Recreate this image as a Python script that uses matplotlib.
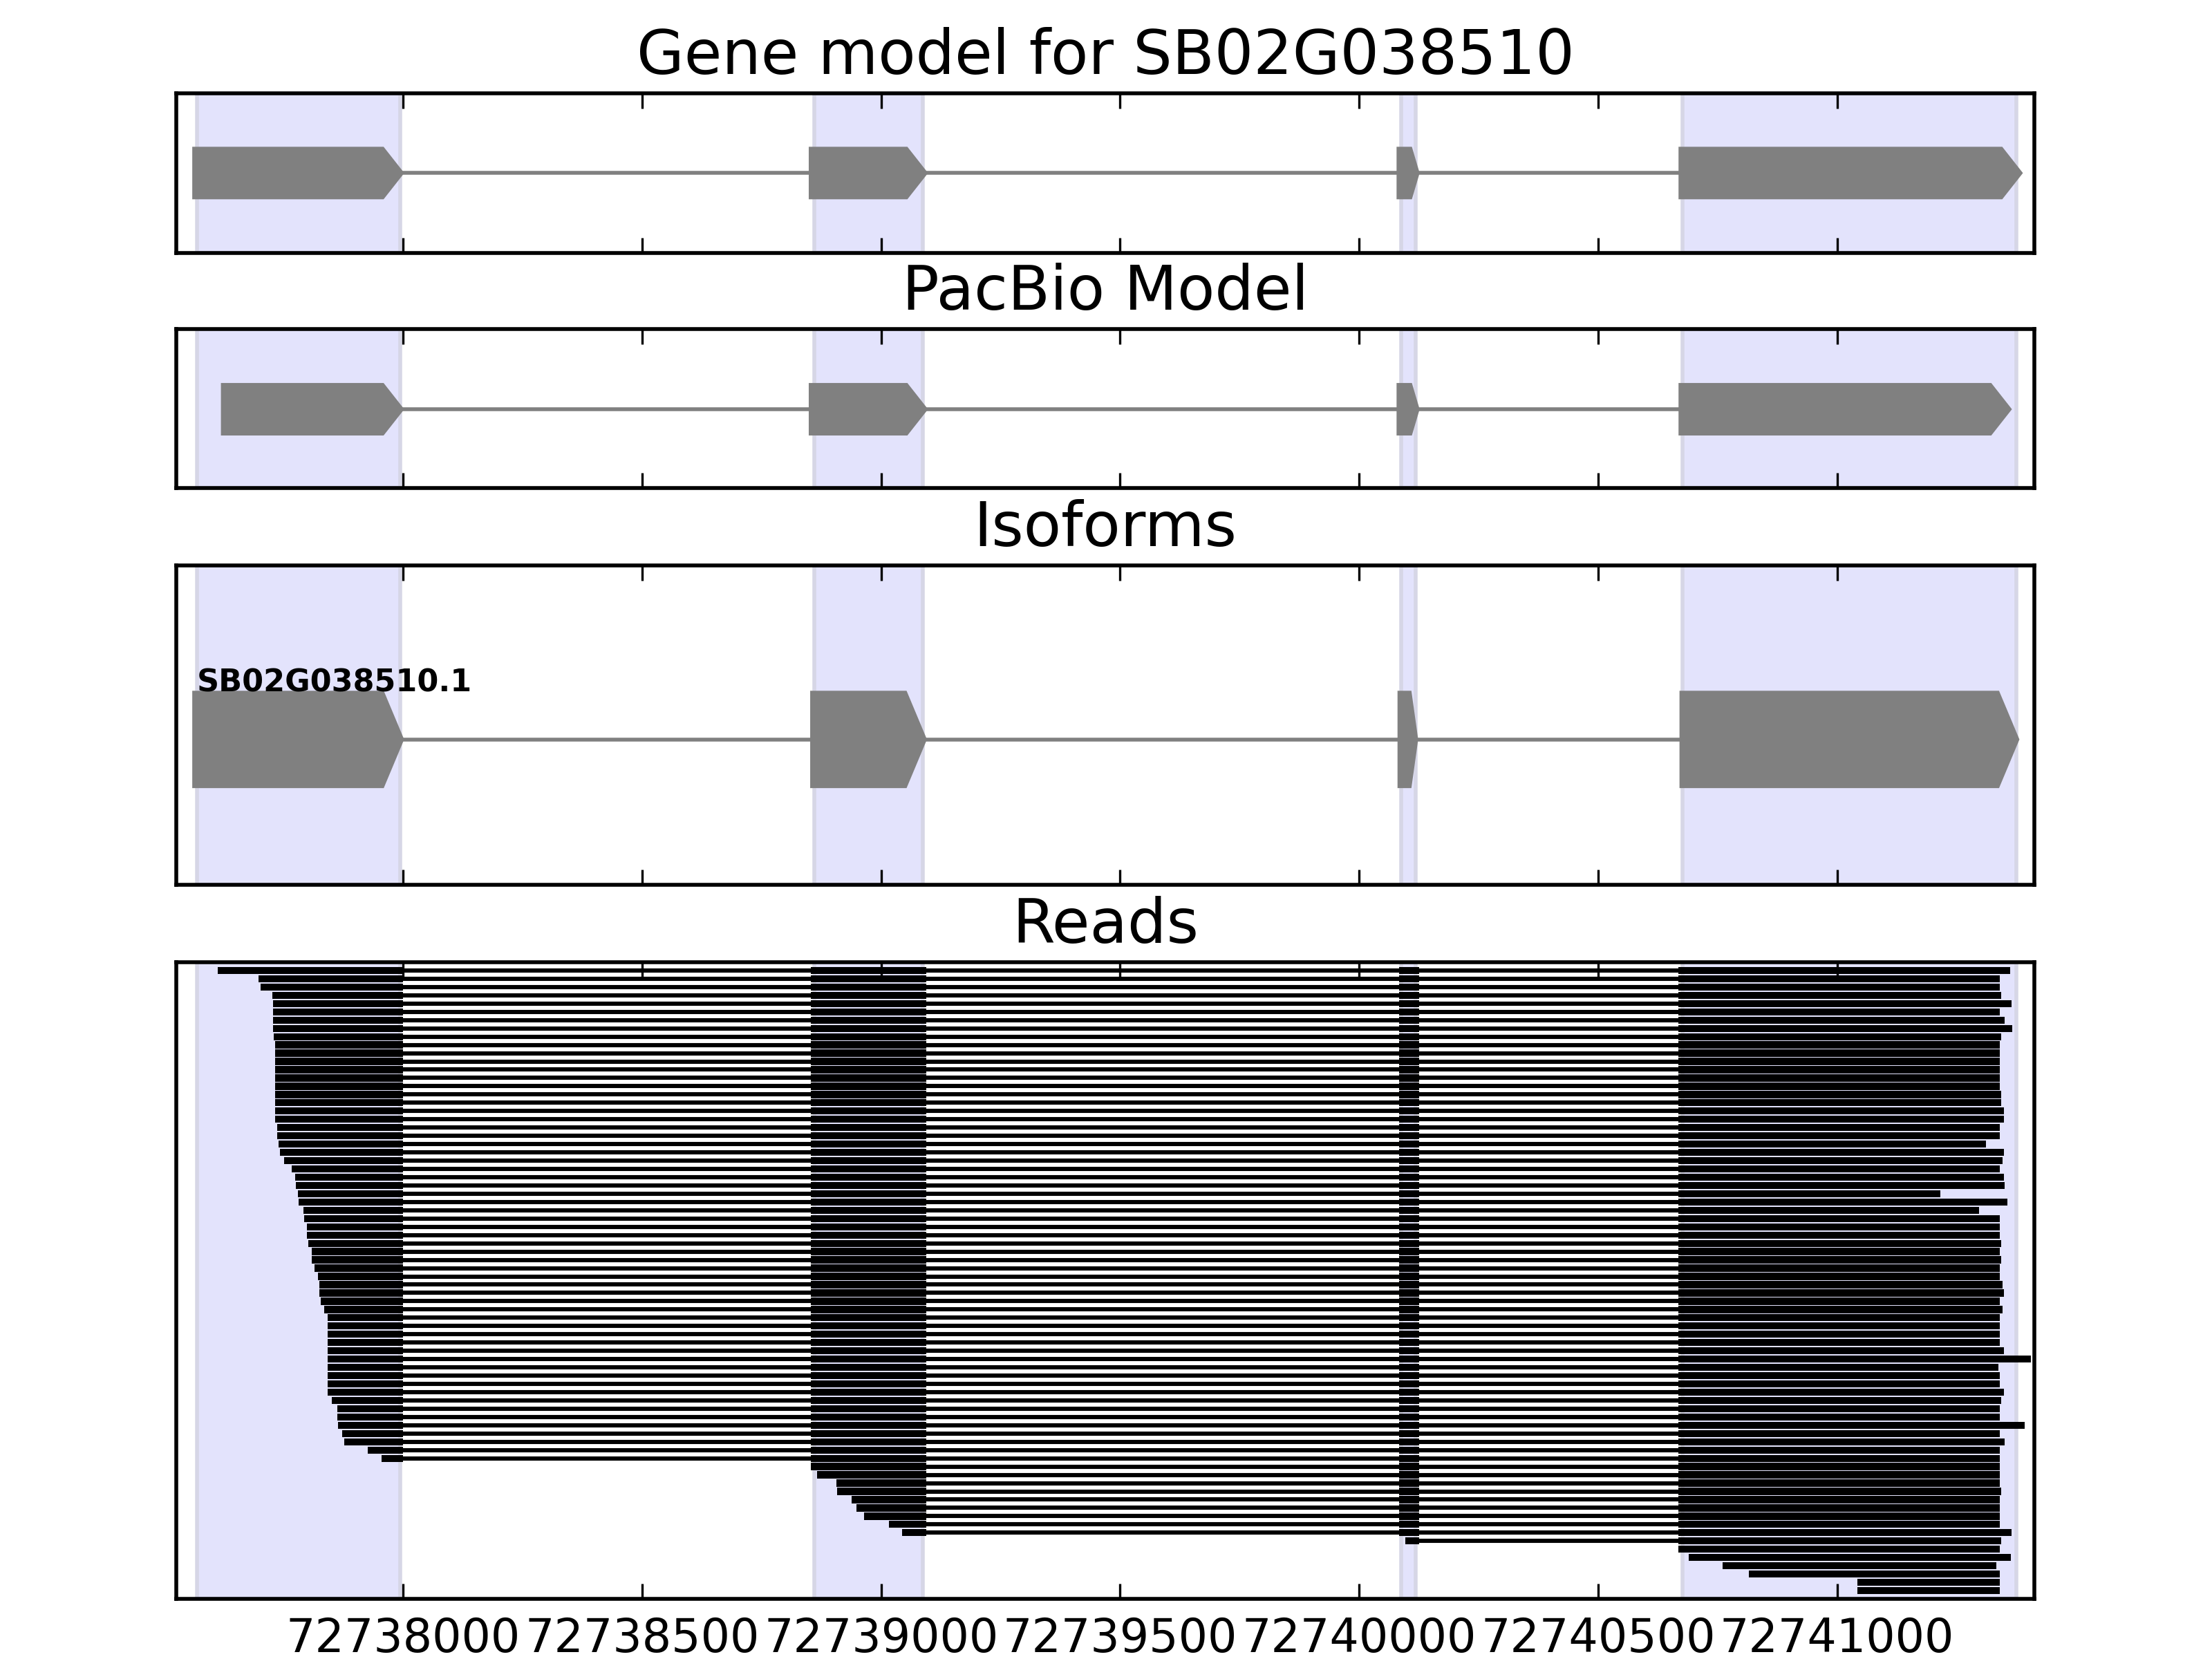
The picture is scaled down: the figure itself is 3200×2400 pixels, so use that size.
import matplotlib
matplotlib.use('Agg')
import matplotlib.pyplot as plt
from matplotlib.patches import Polygon
from matplotlib.ticker import MultipleLocator, ScalarFormatter

# x range of the locus
x_min, x_max = 72737525, 72741413

# gene models (start, end) of each exon, forward strand
gene_exons = [(72737560, 72738000), (72738850, 72739096), (72740080, 72740125), (72740670, 72741387)]
pacbio_exons = [(72737620, 72738000), (72738850, 72739096), (72740080, 72740125), (72740670, 72741364)]
isoform_name = 'SB02G038510.1'
isoform_exons = [(72737560, 72738000), (72738853, 72739094), (72740082, 72740122), (72740672, 72741380)]

# shaded exon regions
shade_regions = [(72737568, 72737994), (72738860, 72739087), (72740088, 72740119), (72740677, 72741375)]

# exon boundaries used by the reads
read_exon_bounds = [(72737500, 72738000), (72738853, 72739094), (72740083, 72740125), (72740668, 72741450)]

# read starts / ends (offset from 72738000)
read_start_off = [
    -388, -303, -298, -274, -273, -273, -273, -272, -271,
    -268, -268, -268, -268, -268, -268, -268, -268, -268, -268,
    -264, -264, -261, -258, -249, -233, -226, -225, -220, -219,
    -209, -207, -201, -201, -199, -192, -192, -186, -178, -176,
    -176, -173, -165, -159, -159, -159, -159, -159, -159, -158,
    -158, -158, -158, -150, -138, -138, -136, -128, -123, -74, -46,
    853, 866, 907, 908, 938, 948, 964, 1016, 1043,
    2097,
    2668, 2690, 2760, 2816, 3042, 3042,
]
read_end_off = [
    3363, 3340, 3340, 3343, 3365, 3340, 3351, 3366, 3343, 3340,
    3340, 3340, 3340, 3341, 3341, 3343, 3343, 3349, 3350, 3340,
    3340, 3312, 3350, 3347, 3341, 3349, 3351, 3216, 3357, 3297,
    3341, 3341, 3341, 3343, 3340, 3343, 3340, 3340, 3347, 3350,
    3340, 3347, 3340, 3340, 3340, 3341, 3350, 3406, 3338, 3340,
    3341, 3350, 3343, 3340, 3340, 3392, 3340, 3351, 3340, 3340,
    3340, 3341, 3341, 3343, 3340, 3341, 3341, 3341, 3365,
    3343,
    3340, 3364, 3333, 3341, 3341, 3341,
]
base = 72738000

shade_fc = '#e3e3fc'
shade_ec = '#d6d6e6'
model_color = '#808080'


def setup_axes(ax, title, labels=False):
    for s, e in shade_regions:
        ax.axvspan(s, e, facecolor=shade_fc, edgecolor=shade_ec, lw=1, zorder=0)
    ax.set_xlim(x_min, x_max)
    ax.set_yticks([])
    ax.xaxis.set_major_locator(MultipleLocator(500))
    fmt = ScalarFormatter(useOffset=False)
    fmt.set_scientific(False)
    ax.xaxis.set_major_formatter(fmt)
    ax.tick_params(axis='x', direction='in', top=True, bottom=True, length=4, width=0.6,
                   labelbottom=labels, labelsize=12, pad=4.5)
    for sp in ax.spines.values():
        sp.set_linewidth(1.0)
    ax.set_title(title, fontsize=16, pad=5)


def draw_model(ax, exons, yc, h):
    for (s, e), (s2, e2) in zip(exons[:-1], exons[1:]):
        ax.plot([e, s2], [yc, yc], color=model_color, lw=1.0, zorder=2)
    for s, e in exons:
        head = min(42, 0.35 * (e - s))
        pts = [(s, yc - h), (e - head, yc - h), (e, yc), (e - head, yc + h), (s, yc + h)]
        ax.add_patch(Polygon(pts, closed=True, fc=model_color, ec=model_color, lw=0.4, zorder=3))


fig = plt.figure(figsize=(8, 6), dpi=400)
left, width = 0.0797, 0.840
ax1 = fig.add_axes([left, 0.8477, width, 0.0960])
ax2 = fig.add_axes([left, 0.7058, width, 0.0960])
ax3 = fig.add_axes([left, 0.4667, width, 0.1925])
ax4 = fig.add_axes([left, 0.03625, width, 0.38375])

setup_axes(ax1, 'Gene model for SB02G038510')
ax1.set_ylim(0, 1)
draw_model(ax1, gene_exons, 0.5, 0.16)

setup_axes(ax2, 'PacBio Model')
ax2.set_ylim(0, 1)
draw_model(ax2, pacbio_exons, 0.495, 0.16)

setup_axes(ax3, 'Isoforms')
ax3.set_ylim(0, 1)
draw_model(ax3, isoform_exons, 0.455, 0.15)
ax3.text(isoform_exons[0][0] + 8, 0.455 + 0.15, isoform_name, fontsize=8, fontweight='bold',
         ha='left', va='baseline', zorder=4)

setup_axes(ax4, 'Reads', labels=True)
n = len(read_start_off)
for i in range(n):
    s = base + read_start_off[i]
    e = base + read_end_off[i]
    ax4.hlines(i, s, e, color='black', lw=1.1, zorder=2)
    blocks = []
    for a, b in read_exon_bounds:
        lo, hi = max(a, s), min(b, e)
        if hi > lo:
            blocks.append((lo, hi - lo))
    ax4.broken_barh(blocks, (i - 0.43, 0.86), facecolor='black', edgecolor='none', zorder=3)
ax4.set_ylim(n, -1)

fig.savefig('out.png', dpi=400)
